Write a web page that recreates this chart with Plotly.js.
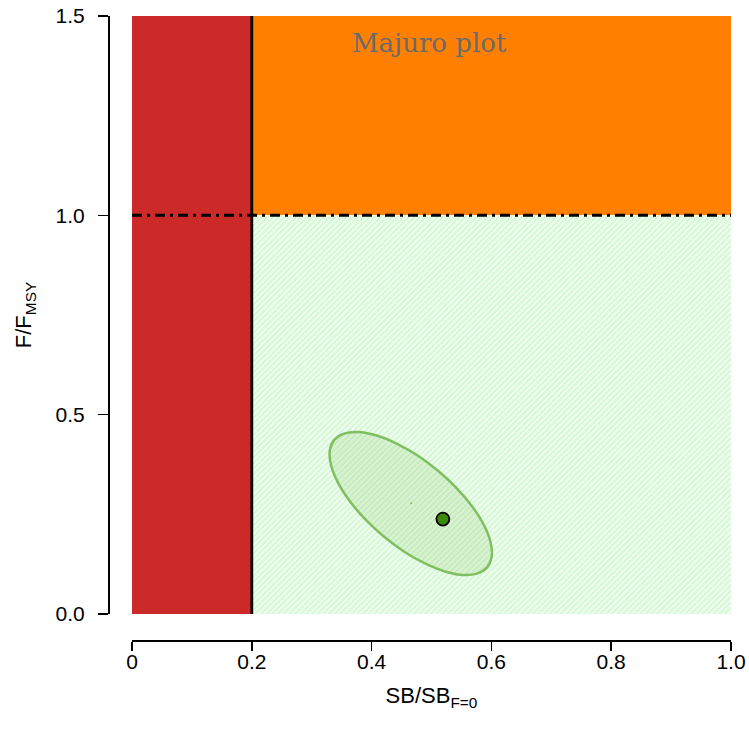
<!DOCTYPE html>
<html>
<head>
<meta charset="utf-8">
<script src="https://cdn.plot.ly/plotly-3.0.1.min.js"></script>
<style>html,body{margin:0;padding:0;background:#fff;}#chart{width:749px;height:730px;}</style>
</head>
<body>
<div id="chart"></div>
<script>
// Reference points and plot limits
const sbLimit = 0.2;      // limit reference point on SB/SB_F=0
const fLimit = 1.0;       // F/F_MSY = 1
const xMax = 1.0;
const yMax = 1.5;

// Current estimate
const pointX = [0.519];
const pointY = [0.238];
// Centre of the uncertainty ellipse
const centreX = [0.466];
const centreY = [0.278];

// Uncertainty ellipse outline
const ellipseX = [0.5931,0.6005,0.5986,0.5877,0.5685,0.5423,0.5108,0.4762,0.4408,0.4071,0.3775,0.3538,0.3376,0.3302,0.3321,0.3430,0.3622,0.3884,0.4199,0.4545,0.4899,0.5236,0.5532,0.5770,0.5931];
const ellipseY = [0.1176,0.1445,0.1801,0.2225,0.2686,0.3153,0.3594,0.3981,0.4282,0.4482,0.4565,0.4525,0.4367,0.4099,0.3742,0.3319,0.2857,0.2390,0.1949,0.1563,0.1262,0.1061,0.0978,0.1018,0.1176];

// Tick labels
const xTickVals = [0, 0.2, 0.4, 0.6, 0.8, 1.0];
const xTickText = ["0", "0.2", "0.4", "0.6", "0.8", "1.0"];
const yTickVals = [0, 0.5, 1.0, 1.5];
const yTickText = ["0.0", "0.5", "1.0", "1.5"];

const traces = [
  { // red zone
    x: [0, sbLimit, sbLimit, 0, 0], y: [0, 0, yMax, yMax, 0],
    type: 'scatter', mode: 'lines', fill: 'toself', fillcolor: '#cc2929',
    line: {width: 0}, hoverinfo: 'skip'
  },
  { // orange zone
    x: [sbLimit, xMax, xMax, sbLimit, sbLimit], y: [fLimit, fLimit, yMax, yMax, fLimit],
    type: 'scatter', mode: 'lines', fill: 'toself', fillcolor: '#ff8000',
    line: {width: 0}, hoverinfo: 'skip'
  },
  { // green zone
    x: [sbLimit, xMax, xMax, sbLimit, sbLimit], y: [0, 0, fLimit, fLimit, 0],
    type: 'scatter', mode: 'lines', fill: 'toself',
    fillpattern: {shape: '/', bgcolor: '#d6f8d6', fgcolor: '#f6fff6', size: 4, solidity: 0.4},
    line: {width: 0}, hoverinfo: 'skip'
  },
  { // ellipse
    x: ellipseX, y: ellipseY,
    type: 'scatter', mode: 'lines', fill: 'toself',
    fillpattern: {shape: '/', bgcolor: '#c8ebbf', fgcolor: '#def6d8', size: 4, solidity: 0.4},
    line: {color: '#80bf60', width: 2.5, shape: 'spline', smoothing: 1}, hoverinfo: 'skip'
  },
  { // centre dot
    x: centreX, y: centreY, type: 'scatter', mode: 'markers',
    marker: {size: 2, color: '#80bf60'}, hoverinfo: 'skip'
  },
  { // F limit line
    x: [0, xMax], y: [fLimit, fLimit], type: 'scatter', mode: 'lines',
    line: {color: '#000', width: 3, dash: '10px,5px,3px,5px'}, hoverinfo: 'skip'
  },
  { // SB limit line
    x: [sbLimit, sbLimit], y: [0, yMax], type: 'scatter', mode: 'lines',
    line: {color: '#000', width: 2.8}, hoverinfo: 'skip'
  },
  { // point estimate
    x: pointX, y: pointY, type: 'scatter', mode: 'markers',
    marker: {size: 13, color: '#3d8a0a', line: {color: '#000', width: 1.8}}, hoverinfo: 'skip'
  }
];

const fontFam = 'Liberation Sans, Arial, sans-serif';
const layout = {
  width: 749, height: 730,
  margin: {l: 108, r: 18, t: 16, b: 90},
  paper_bgcolor: '#fff', plot_bgcolor: '#fff',
  showlegend: false,
  font: {family: fontFam, color: '#000', size: 21},
  xaxis: {
    range: [0, xMax], domain: [24/623, 1], anchor: 'free', position: 0,
    showgrid: false, zeroline: false, showline: true, linecolor: '#000', linewidth: 1.5,
    ticks: 'outside', ticklen: 9, tickwidth: 1.5, tickcolor: '#000', ticklabelstandoff: -7,
    tickvals: xTickVals, ticktext: xTickText, tickfont: {size: 21, family: fontFam, color: '#000'},
    title: {text: 'SB/SB<sub>F=0</sub>', font: {size: 22, family: fontFam, color: '#000'}, standoff: 16}
  },
  yaxis: {
    range: [0, yMax], domain: [26/624, 1], anchor: 'free', position: 0,
    showgrid: false, zeroline: false, showline: true, linecolor: '#000', linewidth: 1.5,
    ticks: 'outside', ticklen: 10, tickwidth: 1.5, tickcolor: '#000', ticklabelstandoff: 9,
    tickvals: yTickVals, ticktext: yTickText, tickfont: {size: 21, family: fontFam, color: '#000'},
    title: {text: 'F/F<sub>MSY</sub>', font: {size: 22, family: fontFam, color: '#000'}, standoff: 16}
  },
  annotations: [{
    x: 0.497, y: 1.432, xref: 'x', yref: 'y', text: 'Majuro plot', showarrow: false,
    font: {family: 'DejaVu Serif, Liberation Serif, serif', size: 26, color: '#6b6b6b'}
  }]
};

Plotly.newPlot('chart', traces, layout, {displayModeBar: false, staticPlot: true});
</script>
</body>
</html>
